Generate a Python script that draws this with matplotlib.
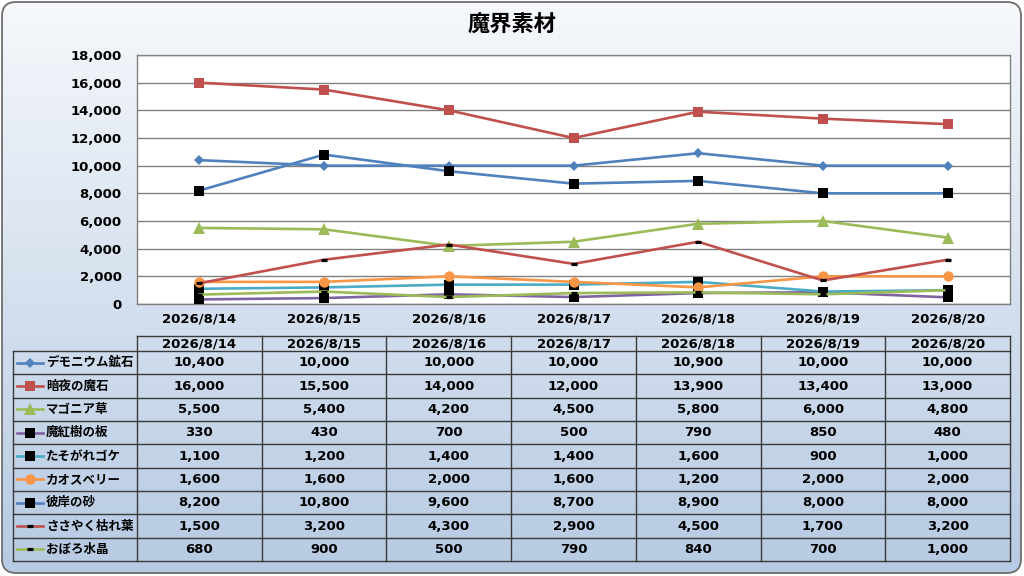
import matplotlib
matplotlib.use('Agg')
import matplotlib.pyplot as plt
import numpy as np
from matplotlib.patches import FancyBboxPatch

plt.rcParams['font.family'] = ['DejaVu Sans', 'Noto Sans CJK JP']
JP = ['Noto Sans CJK JP', 'DejaVu Sans']

title = "魔界素材"
dates = ["2026/8/14", "2026/8/15", "2026/8/16", "2026/8/17", "2026/8/18", "2026/8/19", "2026/8/20"]

demonium = [10400, 10000, 10000, 10000, 10900, 10000, 10000]
anya = [16000, 15500, 14000, 12000, 13900, 13400, 13000]
magonia = [5500, 5400, 4200, 4500, 5800, 6000, 4800]
makouju = [330, 430, 700, 500, 790, 850, 480]
tasogare = [1100, 1200, 1400, 1400, 1600, 900, 1000]
chaos = [1600, 1600, 2000, 1600, 1200, 2000, 2000]
higan = [8200, 10800, 9600, 8700, 8900, 8000, 8000]
sasayaku = [1500, 3200, 4300, 2900, 4500, 1700, 3200]
oboro = [680, 900, 500, 790, 840, 700, 1000]

names = ["デモニウム鉱石", "暗夜の魔石", "マゴニア草", "魔紅樹の板", "たそがれゴケ",
         "カオスベリー", "彼岸の砂", "ささやく枯れ葉", "おぼろ水晶"]
series = [demonium, anya, magonia, makouju, tasogare, chaos, higan, sasayaku, oboro]

# style: (line colour, marker, marker face, marker size, marker edge width)
styles = [
    ("#4F81BD", "D", "#4F81BD", 5, 0),
    ("#C0504D", "s", "#C0504D", 6.8, 0),
    ("#9BBB59", "^", "#9BBB59", 8, 0),
    ("#8064A2", "s", "#000000", 7, 0),
    ("#4BACC6", "s", "#000000", 7, 0),
    ("#F79646", "o", "#F79646", 7.5, 0),
    ("#4F81BD", "s", "#000000", 7.2, 0),
    ("#C0504D", "_", "#000000", 4.5, 2.3),
    ("#9BBB59", "_", "#000000", 4.5, 2.3),
]

W, H = 1024, 576
fig = plt.figure(figsize=(W / 100, H / 100), dpi=100)

# background with gradient and rounded border
bg = fig.add_axes([0, 0, 1, 1], zorder=0)
bg.set_xlim(0, W)
bg.set_ylim(H, 0)
bg.axis('off')
top = np.array([0xf6, 0xf8, 0xfb]) / 255
bot = np.array([0xb6, 0xca, 0xe3]) / 255
t = np.linspace(0, 1, 256)[:, None]
grad = top[None, None, :] * (1 - t[:, :, None]) + bot[None, None, :] * t[:, :, None]
grad = np.repeat(grad, 2, axis=1)
im = bg.imshow(grad, extent=[0, W, H, 0], aspect='auto', zorder=0)
box = FancyBboxPatch((2, 2), W - 5, H - 5, boxstyle="round,pad=0,rounding_size=14",
                     fc='none', ec='#6e6e6e', lw=1.3, zorder=2)
bg.add_patch(box)
im.set_clip_path(box)

# plot area
L, R, T, B = 137, 1010, 55, 304
ax = fig.add_axes([L / W, 1 - B / H, (R - L) / W, (B - T) / H], zorder=1)
ax.set_facecolor('white')
x = np.arange(len(dates))
for vals, (col, mk, mfc, ms, mew) in zip(series, styles):
    ax.plot(x, vals, color=col, lw=1.9, marker=mk, markerfacecolor=mfc,
            markeredgecolor=mfc, markersize=ms, markeredgewidth=mew, zorder=3)
ax.set_xlim(-0.5, len(dates) - 0.5)
ax.set_ylim(0, 18000)
ax.set_yticks(np.arange(0, 18001, 2000))
ax.set_yticklabels([f"{v:,}" for v in range(0, 18001, 2000)], fontsize=9.5, fontweight='bold')
ax.set_xticks(x)
ax.set_xticklabels(dates, fontsize=9.5, fontweight='bold')
ax.tick_params(axis='y', length=0, pad=11)
ax.tick_params(axis='x', length=0, pad=6)
ax.grid(axis='y', color='#808080', lw=1)
ax.set_axisbelow(True)
for s in ax.spines.values():
    s.set_color('#808080')
    s.set_linewidth(1)

fig.text(0.5, 1 - 25 / H, title, ha='center', va='center', fontsize=16, fontweight='bold',
         family=JP)

# data table
tb = fig.add_axes([0, 0, 1, 1], zorder=2)
tb.set_xlim(0, W)
tb.set_ylim(H, 0)
tb.axis('off')
TL = 13
hdr_top, hdr_bot, tab_bot = 336, 351, 561
n = len(series)
rowh = (tab_bot - hdr_bot) / n
colw = (R - L) / len(dates)
lc = '#3a3a3a'
tb.plot([L, R], [hdr_top, hdr_top], color=lc, lw=1)
for j in range(len(dates) + 1):
    xx = L + j * colw
    tb.plot([xx, xx], [hdr_top, tab_bot], color=lc, lw=1)
for i in range(n + 1):
    yy = hdr_bot + i * rowh
    tb.plot([TL, R], [yy, yy], color=lc, lw=1)
tb.plot([TL, TL], [hdr_bot, tab_bot], color=lc, lw=1)
for j, d in enumerate(dates):
    tb.text(L + (j + 0.5) * colw, (hdr_top + hdr_bot) / 2 + 0.5, d, ha='center', va='center',
            fontsize=9.5, fontweight='bold')
for i, (nm, vals, (col, mk, mfc, ms, mew)) in enumerate(zip(names, series, styles)):
    yc = hdr_bot + (i + 0.5) * rowh
    tb.plot([17, 43], [yc, yc], color=col, lw=1.9)
    tb.plot([30], [yc], marker=mk, markerfacecolor=mfc, markeredgecolor=mfc,
            markersize=ms, markeredgewidth=mew, color=col)
    tb.text(46, yc, nm, ha='left', va='center', fontsize=9, fontweight='bold', family=JP)
    for j, v in enumerate(vals):
        tb.text(L + (j + 0.5) * colw, yc, f"{v:,}", ha='center', va='center',
                fontsize=9.5, fontweight='bold')

fig.savefig('out.png', dpi=100)
